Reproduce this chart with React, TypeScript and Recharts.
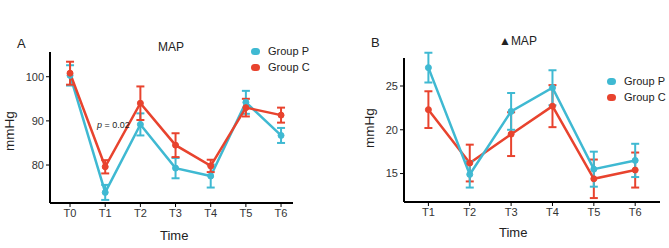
import { LineChart, Line, XAxis, YAxis, ErrorBar } from 'recharts';

const timesA = ['T0', 'T1', 'T2', 'T3', 'T4', 'T5', 'T6'];
const groupPA = [100.3, 73.8, 89.2, 79.3, 77.5, 94.2, 86.7];
const groupPAErr = [2.3, 1.7, 2.5, 2.3, 2.6, 2.6, 1.7];
const groupCA = [100.8, 79.6, 94.0, 84.5, 79.8, 93.0, 91.3];
const groupCAErr = [2.6, 1.5, 3.8, 2.7, 1.4, 2.0, 1.7];

const timesB = ['T1', 'T2', 'T3', 'T4', 'T5', 'T6'];
const groupPB = [27.1, 14.9, 22.1, 24.8, 15.5, 16.5];
const groupPBErr = [1.7, 1.5, 2.1, 2.0, 2.0, 1.9];
const groupCB = [22.3, 16.2, 19.5, 22.7, 14.4, 15.4];
const groupCBErr = [2.1, 2.1, 2.5, 2.4, 2.2, 2.0];

const ticksA = [80, 90, 100];
const ticksB = [15, 20, 25];

const cyan = '#3fb9d2';
const red = '#e8432e';
const font = '"Liberation Sans", Arial, sans-serif';

const dataA = timesA.map((t, i) => ({
  x: i,
  p: groupPA[i],
  pErr: groupPAErr[i],
  c: groupCA[i],
  cErr: groupCAErr[i],
}));

const dataB = timesB.map((t, i) => ({
  x: i,
  p: groupPB[i],
  pErr: groupPBErr[i],
  c: groupCB[i],
  cErr: groupCBErr[i],
}));

const txt = (style: React.CSSProperties): React.CSSProperties => ({
  position: 'absolute',
  fontFamily: font,
  color: '#222',
  whiteSpace: 'nowrap',
  lineHeight: 1,
  ...style,
});

function LegendBox({ left, top }: { left: number; top: number }) {
  const row = (color: string, label: string, y: number) => (
    <div style={txt({ left, top: top + y, fontSize: 11, display: 'flex', alignItems: 'center' })}>
      <span
        style={{
          display: 'inline-block',
          width: 9,
          height: 7,
          borderRadius: 4,
          background: color,
          marginRight: 8,
        }}
      />
      {label}
    </div>
  );
  return (
    <>
      {row(cyan, 'Group P', 0)}
      {row(red, 'Group C', 16)}
    </>
  );
}

const axisTick = { fill: '#333', fontSize: 11, fontFamily: font };
const axisLine = { stroke: '#000', strokeWidth: 2 };

function Series({ dataKey, errKey, color }: { dataKey: string; errKey: string; color: string }) {
  return (
    <Line
      dataKey={dataKey}
      stroke={color}
      strokeWidth={2.5}
      dot={{ r: 3, fill: color, stroke: color, strokeWidth: 1 }}
      activeDot={false}
      isAnimationActive={false}
    >
      <ErrorBar dataKey={errKey} width={4} strokeWidth={2} stroke={color} />
    </Line>
  );
}

export default function App() {
  return (
    <div style={{ position: 'absolute', left: 0, top: 0, width: 669, height: 248, background: '#fff' }}>
      <div style={{ position: 'absolute', left: 0, top: 0 }}>
        <LineChart width={330} height={248} data={dataA} margin={{ top: 52, right: 37, bottom: 15, left: 20 }}>
          <XAxis
            type="number"
            dataKey="x"
            domain={[-0.57, 6.34]}
            ticks={timesA.map((_, i) => i)}
            tickFormatter={(i: number) => timesA[i]}
            allowDataOverflow
            axisLine={axisLine}
            tickLine={{ stroke: '#000' }}
            tickSize={4}
            tick={axisTick}
            height={30}
          />
          <YAxis
            domain={[71.4, 105.6]}
            ticks={ticksA}
            allowDataOverflow
            axisLine={axisLine}
            tickLine={{ stroke: '#000' }}
            tickSize={4}
            tick={axisTick}
            width={30}
          />
          <Series dataKey="p" errKey="pErr" color={cyan} />
          <Series dataKey="c" errKey="cErr" color={red} />
        </LineChart>
      </div>
      <div style={txt({ left: 17, top: 37, fontSize: 13 })}>A</div>
      <div style={txt({ left: 158, top: 41, fontSize: 12 })}>MAP</div>
      <div style={txt({ left: 97, top: 121, fontSize: 9 })}>
        <i>p</i> = 0.02
      </div>
      <div
        style={txt({
          left: 10,
          top: 131,
          fontSize: 13.5,
          transform: 'translate(-50%, -50%) rotate(-90deg)',
        })}
      >
        mmHg
      </div>
      <div style={txt({ left: 160, top: 229, fontSize: 13 })}>Time</div>
      <LegendBox left={251} top={46} />

      <div style={{ position: 'absolute', left: 335, top: 0 }}>
        <LineChart width={334} height={248} data={dataB} margin={{ top: 58, right: 9, bottom: 16, left: 39 }}>
          <XAxis
            type="number"
            dataKey="x"
            domain={[-0.59, 5.6]}
            ticks={timesB.map((_, i) => i)}
            tickFormatter={(i: number) => timesB[i]}
            allowDataOverflow
            axisLine={axisLine}
            tickLine={{ stroke: '#000' }}
            tickSize={4}
            tick={axisTick}
            height={30}
          />
          <YAxis
            domain={[11.75, 28.2]}
            ticks={ticksB}
            allowDataOverflow
            axisLine={axisLine}
            tickLine={{ stroke: '#000' }}
            tickSize={4}
            tick={axisTick}
            width={30}
          />
          <Series dataKey="c" errKey="cErr" color={red} />
          <Series dataKey="p" errKey="pErr" color={cyan} />
        </LineChart>
      </div>
      <div style={txt({ left: 371, top: 36, fontSize: 13 })}>B</div>
      <div style={txt({ left: 499, top: 35, fontSize: 12 })}>▲MAP</div>
      <div
        style={txt({
          left: 370,
          top: 128,
          fontSize: 13.5,
          transform: 'translate(-50%, -50%) rotate(-90deg)',
        })}
      >
        mmHg
      </div>
      <div style={txt({ left: 499, top: 226, fontSize: 13 })}>Time</div>
      <LegendBox left={607} top={76} />
    </div>
  );
}
